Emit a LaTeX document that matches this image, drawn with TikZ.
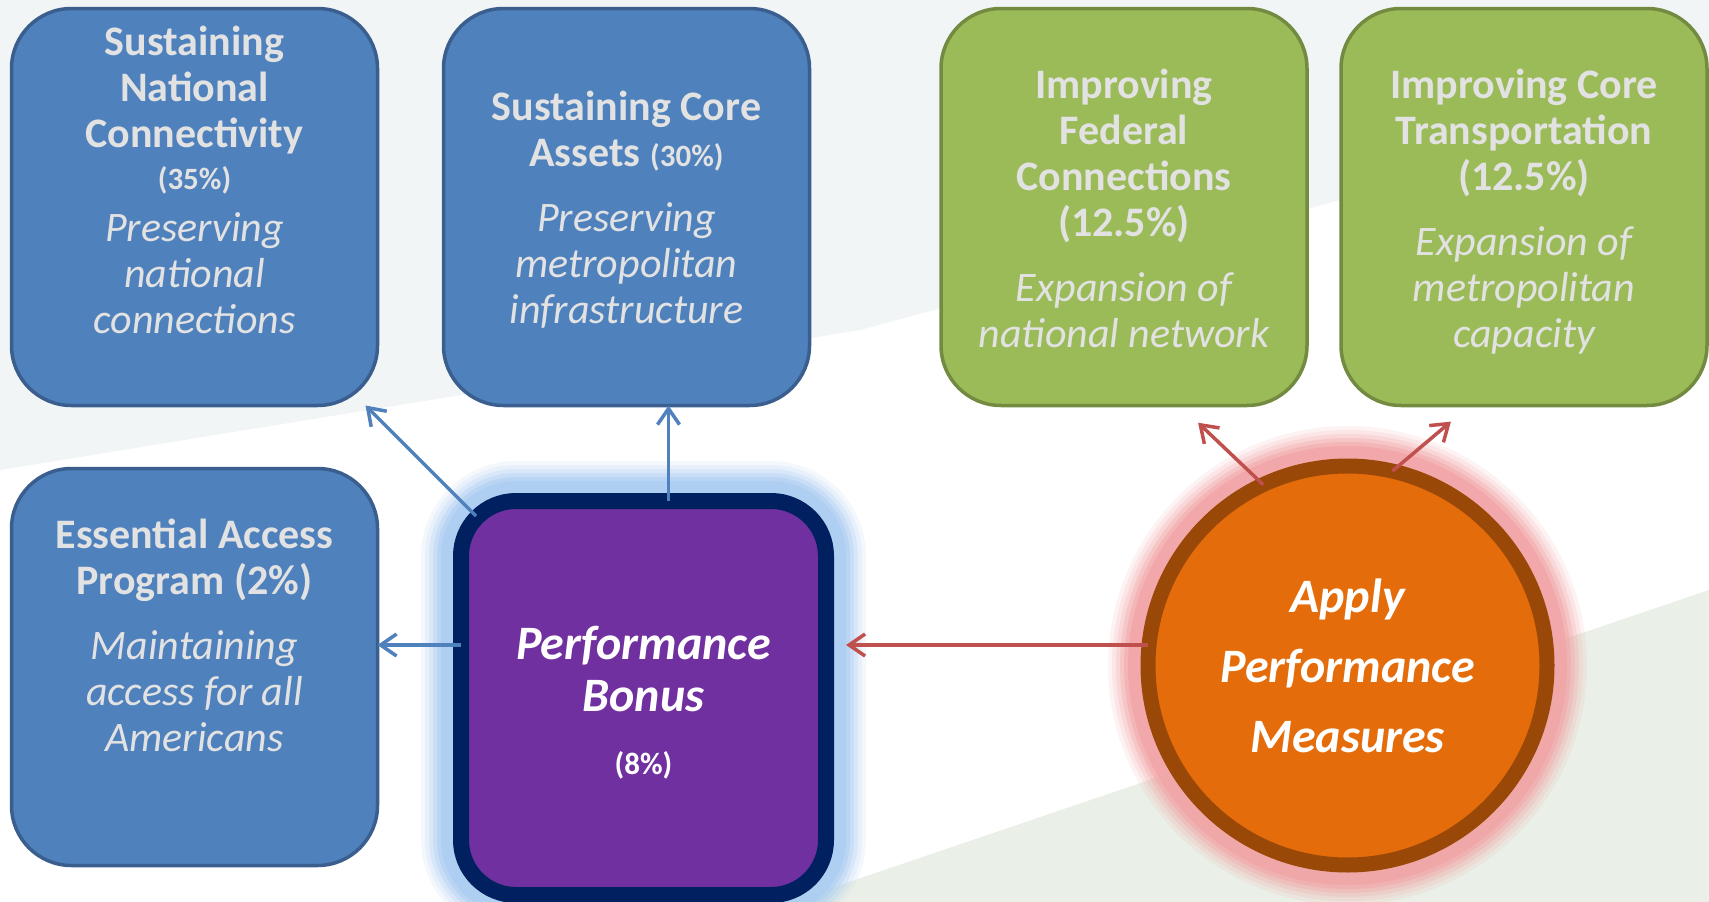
\documentclass[tikz,border=0pt]{standalone}
\usepackage{fontspec}
\setmainfont{Carlito}
\usetikzlibrary{arrows.meta}
\definecolor{cardblue}{HTML}{4F81BD}
\definecolor{cardblueline}{HTML}{3A5F8F}
\definecolor{cardgreen}{HTML}{9BBB59}
\definecolor{cardgreenline}{HTML}{738B40}
\definecolor{bonuspurple}{HTML}{7030A0}
\definecolor{bonusnavy}{HTML}{002060}
\definecolor{bonusglow}{HTML}{A9CCF2}
\definecolor{measorange}{HTML}{E46C0A}
\definecolor{measbrown}{HTML}{9A4807}
\definecolor{measglow}{HTML}{F2A2A4}
\definecolor{linkblue}{HTML}{4F81BD}
\definecolor{linkred}{HTML}{C0504D}
\definecolor{paletext}{HTML}{E2E2E2}
\definecolor{bgsky}{HTML}{F1F5F5}
\definecolor{bggreen}{HTML}{EAF0E7}
\newcommand{\titlefont}{\fontsize{42}{46}\selectfont\bfseries}
\newcommand{\pctfont}{\fontsize{31}{36}\selectfont\bfseries\upshape}
\newcommand{\notefont}{\fontsize{42}{46}\selectfont\mdseries\itshape}
\newcommand{\bigfont}{\fontsize{48}{52}\selectfont\bfseries\itshape}
\newcommand{\note}[1]{{\notefont #1}}
\begin{document}
\begin{tikzpicture}[x=1pt,y=-1pt,
    card/.style={rounded corners=60pt,line width=3.5pt,minimum width=366pt,
      minimum height=397pt,inner sep=0pt,outer sep=0pt},
    bluecard/.style={card,fill=cardblue,draw=cardblueline},
    greencard/.style={card,fill=cardgreen,draw=cardgreenline},
    cardtext/.style={text=paletext,align=center,inner sep=0pt,anchor=north,
      font=\titlefont},
    glow/.style={preaction={draw=#1,line width=80pt,opacity=.12},
      preaction={draw=#1,line width=72pt,opacity=.16},
      preaction={draw=#1,line width=64pt,opacity=.22},
      preaction={draw=#1,line width=56pt,opacity=.32},
      preaction={draw=#1,line width=48pt,opacity=.45},
      preaction={draw=#1,line width=40pt,opacity=.65}},
    link/.style={line width=3.5pt,-{Straight Barb[length=16pt,width=22pt]}}]

  \useasboundingbox (0,0) rectangle (1709,902);
  \fill[white] (0,0) rectangle (1709,902);
  \fill[bgsky] (0,0) -- (1709,0) -- (1709,100) -- (860,330) -- (0,470) -- cycle;
  \fill[bggreen] (790,902) -- (1709,590) -- (1709,902) -- cycle;

  \node[bluecard] (snc) at (194.5,207) {};
  \node[bluecard] (sca) at (626.5,207) {};
  \node[greencard] (ifc) at (1124,207) {};
  \node[greencard] (ict) at (1524,207) {};
  \node[bluecard] (eap) at (194.5,667) {};

  \node[cardtext] (snc-t) at ([yshift=-17pt]snc.north)
    {Sustaining\\National\\Connectivity\\[-4pt]{\pctfont (35\%)}\\[6pt]
     \note{Preserving}\\\note{national}\\\note{connections}};
  \node[cardtext] (sca-t) at ([yshift=-82pt]sca.north)
    {Sustaining Core\\Assets {\pctfont (30\%)}\\[19pt]
     \note{Preserving}\\\note{metropolitan}\\\note{infrastructure}};
  \node[cardtext] (ifc-t) at ([yshift=-60pt]ifc.north)
    {Improving\\Federal\\Connections\\(12.5\%)\\[19pt]
     \note{Expansion of}\\\note{national network}};
  \node[cardtext] (ict-t) at ([yshift=-60pt]ict.north)
    {Improving Core\\Transportation\\(12.5\%)\\[19pt]
     \note{Expansion of}\\\note{metropolitan}\\\note{capacity}};
  \node[cardtext] (eap-t) at ([yshift=-50pt]eap.north)
    {Essential Access\\Program (2\%)\\[19pt]
     \note{Maintaining}\\\note{access for all}\\\note{Americans}};

  \node[rounded corners=55pt,line width=16pt,draw=bonusnavy,fill=bonuspurple,
    minimum width=365pt,minimum height=394pt,outer sep=0pt,glow=bonusglow,
    text=white,align=center,font=\bigfont] (pb) at (643.5,698)
    {\\[-10pt]Performance\\Bonus\\[11pt]{\pctfont (8\%)}};

  \node[circle,minimum size=399pt,line width=15pt,draw=measbrown,
    fill=measorange,outer sep=0pt,inner sep=0pt,glow=measglow,
    text=white,align=center,font=\bigfont] (apm) at (1347.5,665.5)
    {Apply\\[18pt]Performance\\[18pt]Measures};

  \coordinate (mid) at (0,645);
  \draw[link,linkblue] ([xshift=15pt,yshift=-15pt]pb.north west) -- ([xshift=-12pt]snc.south east);
  \draw[link,linkblue] ([xshift=25pt]pb.north) -- ([xshift=42pt]sca.south);
  \draw[link,linkblue] (pb.west |- mid) -- (eap.east |- mid);
  \draw[link,linkred,shorten >=20pt] (apm.west |- mid) -- (pb.east |- mid);
  \draw[link,linkred,shorten >=25pt] (apm.115) -- ([xshift=56pt]ifc.south);
  \draw[link,linkred,shorten >=25pt] (apm.77) -- ([xshift=-54pt]ict.south);
\end{tikzpicture}
\end{document}
